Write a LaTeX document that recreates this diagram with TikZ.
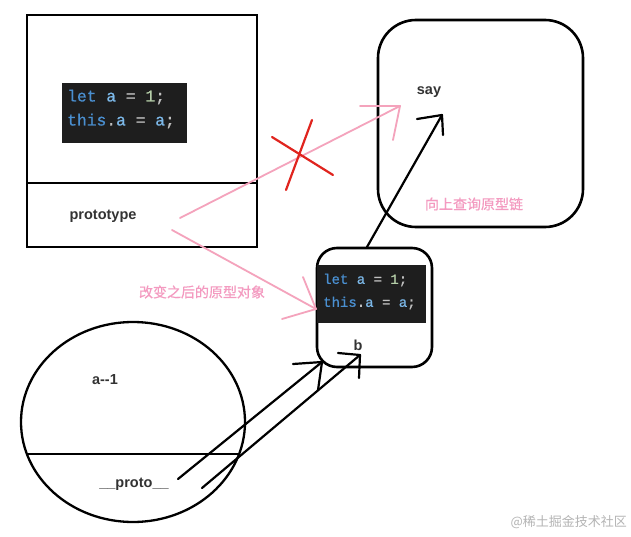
\documentclass[tikz,border=0pt]{standalone}
\usepackage{fontspec}
\setmainfont{Liberation Sans}
\newfontfamily\cjk[FakeBold=0.6]{Noto Sans CJK SC}
\newfontfamily\cjkw{Noto Sans CJK SC}
\newfontfamily\codefont[FakeBold=0.8]{Liberation Mono}
\definecolor{codebg}{HTML}{1E1E1E}
\definecolor{kw}{HTML}{4A8FD0}
\definecolor{var}{HTML}{7CB8E8}
\definecolor{op}{HTML}{C0C0C0}
\definecolor{num}{HTML}{B5CEA8}
\definecolor{pinkline}{HTML}{F4A3BC}
\definecolor{pinktext}{HTML}{F49AC0}
\definecolor{redx}{HTML}{E0241E}
\definecolor{lblc}{HTML}{333333}
\definecolor{wmark}{HTML}{B4B4B4}
\newcommand{\codeA}{\textcolor{kw}{let} \textcolor{var}{a} \textcolor{op}{=} \textcolor{num}{1}\textcolor{op}{;}}
\newcommand{\codeB}{\textcolor{kw}{this}\textcolor{op}{.}\textcolor{var}{a} \textcolor{op}{=} \textcolor{var}{a}\textcolor{op}{;}}
\begin{document}
\begin{tikzpicture}[x=1pt,y=-1pt,
  frame/.style={draw=black,line width=2.6pt},
  lbl/.style={font=\fontsize{14.5}{16}\selectfont\bfseries,text=lblc,inner sep=0pt},
  pinktxt/.style={font=\cjk\fontsize{14}{16}\selectfont,text=pinktext,inner sep=0pt},
  codeline/.style={anchor=west,inner sep=0pt},
  pinkarrow/.style={draw=pinkline,line width=1.8pt,line cap=round},
  blackarrow/.style={draw=black,line width=2.2pt,line cap=round},
  crossline/.style={draw=redx,line width=2.2pt,line cap=round}]
\useasboundingbox (0,0) rectangle (631,537);
\fill[white] (0,0) rectangle (631,537);

% top-left constructor box
\draw[frame] (27,15) rectangle (257,247);
\draw[frame] (27,183) -- (257,183);
\fill[codebg] (62,83) rectangle (187,143);
\node[codeline,font=\codefont\fontsize{16.3}{18}\selectfont] (c1a) at (67,97) {\codeA};
\node[codeline,font=\codefont\fontsize{16.3}{18}\selectfont] (c1b) at (67,121) {\codeB};
\node[lbl] (proto) at (103,216) {prototype};

% top-right prototype object
\draw[frame,rounded corners=38pt] (378,20) rectangle (583,227);
\node[lbl] (say) at (429,92) {say};
\node[pinktxt] (chain) at (474,204) {向上查询原型链};

% middle object b
\draw[frame,rounded corners=20pt] (317,248) rectangle (432,367);
\fill[codebg] (317,265) rectangle (426,323);
\node[codeline,font=\codefont\fontsize{14}{16}\selectfont] (c2a) at (323,280) {\codeA};
\node[codeline,font=\codefont\fontsize{14}{16}\selectfont] (c2b) at (323,303) {\codeB};
\node[lbl] (b) at (358,345) {b};
\node[pinktxt] (changed) at (202,292) {改变之后的原型对象};

% bottom instance ellipse
\draw[frame,line width=2.3pt] (133,422) ellipse [x radius=112, y radius=100];
\draw[frame,line width=2.3pt] (26,454) -- (240,454);
\node[lbl] (a1) at (105,380) {a\mbox{-}\mbox{-}1};
\node[lbl] (pr) at (134,484) {\_\_proto\_\_};

% pink arrow prototype -> say (crossed out)
\coordinate (p1s) at (180,218);
\coordinate (p1t) at (400,106);
\draw[pinkarrow] (p1s) -- (p1t);
\draw[pinkarrow] (p1t) -- (360,106);
\draw[pinkarrow] (p1t) -- (393,140);
\draw[crossline] (272,137) -- (333,175);
\draw[crossline] (312,120) -- (286,190);

% pink arrow prototype -> b
\coordinate (p2s) at (172,230);
\coordinate (p2t) at (316,309);
\draw[pinkarrow] (p2s) -- (p2t);
\draw[pinkarrow] (p2t) -- (303,277);
\draw[pinkarrow] (p2t) -- (282,319);

% black arrow b -> say
\coordinate (bs) at (367,247);
\coordinate (bt) at (442,115);
\draw[blackarrow] (bs) -- (bt);
\draw[blackarrow] (bt) -- (417,119);
\draw[blackarrow] (bt) -- (443,135);

% black arrows __proto__ -> b
\coordinate (a1s) at (178,479);
\coordinate (a1t) at (322,362);
\draw[blackarrow] (a1s) -- (a1t);
\draw[blackarrow] (a1t) -- (293,364);
\draw[blackarrow] (a1t) -- (318,390);
\coordinate (a2s) at (202,488);
\coordinate (a2t) at (360,355);
\draw[blackarrow] (a2s) -- (a2t);
\draw[blackarrow] (a2t) -- (338,353);
\draw[blackarrow] (a2t) -- (359,378);

% watermark
\node[font=\cjkw\fontsize{13}{15}\selectfont,text=wmark,inner sep=0pt,anchor=east] (wm) at (627,522) {@稀土掘金技术社区};
\end{tikzpicture}
\end{document}
